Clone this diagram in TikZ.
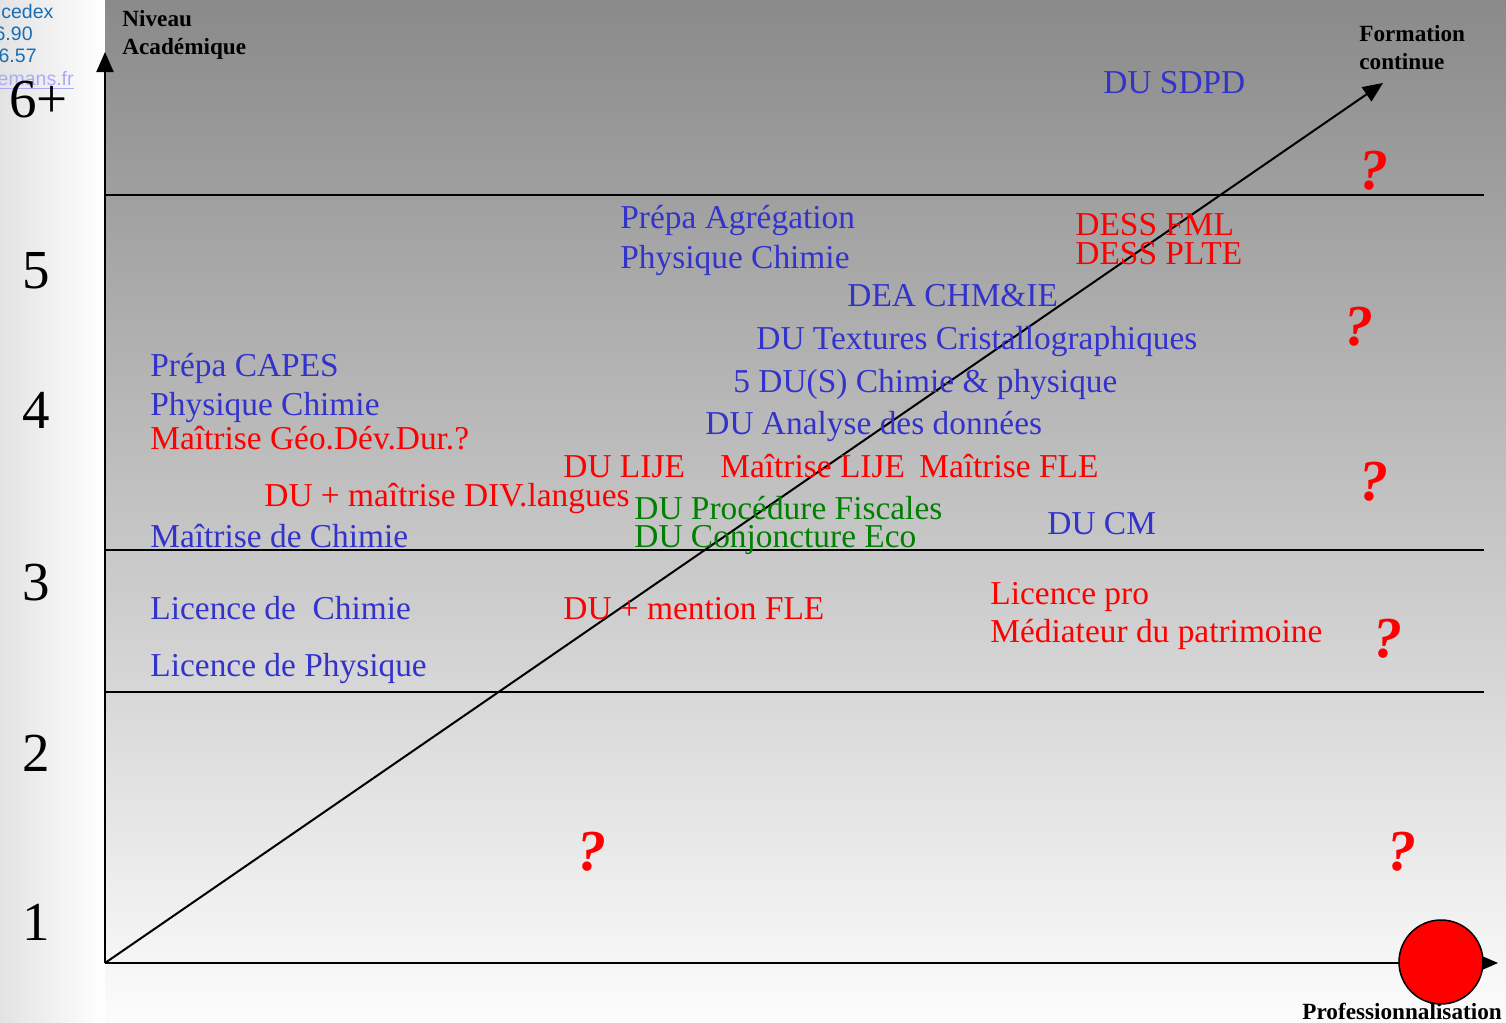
\documentclass[tikz,border=0pt]{standalone}
\usepackage{fontspec}
\setmainfont{Liberation Serif}
\newfontfamily\webfont{Liberation Sans}
\usetikzlibrary{arrows.meta}
\definecolor{dublue}{RGB}{51,51,204}
\definecolor{dured}{RGB}{255,0,0}
\definecolor{dugreen}{RGB}{0,128,0}
\definecolor{weblink}{RGB}{24,110,180}
\definecolor{webvisited}{RGB}{170,170,250}
\tikzset{
	entry/.style={anchor=base west, inner sep=0pt, font=\fontsize{16.7}{18}\selectfont},
	bluetxt/.style={entry, text=dublue},
	redtxt/.style={entry, text=dured},
	greentxt/.style={entry, text=dugreen},
	axislabel/.style={anchor=base west, inner sep=0pt, font=\fontsize{11.6}{13}\selectfont\bfseries},
	levelnum/.style={anchor=base, inner sep=0pt, font=\fontsize{27.5}{30}\selectfont},
	qmark/.style={anchor=base, inner sep=0pt, text=dured, font=\fontsize{29}{32}\selectfont\bfseries\itshape},
	webtxt/.style={inner sep=0pt, text=weblink, font=\fontsize{9.75}{11}\selectfont\webfont},
	axisline/.style={line width=1pt, -{Triangle[length=10pt,width=8.5pt]}},
	levelline/.style={line width=1pt}
}
\begin{document}
\begin{tikzpicture}[x=0.5pt,y=-0.5pt]
		%%%%% START %%%%%
		\useasboundingbox (0,0) rectangle (1506,1023);
		\clip (0,0) rectangle (1506,1023);
		
		% backgrounds
		\shade[left color=black!11, right color=white] (0,0) rectangle (105,1023);
		\shade[top color=black!46, bottom color=black!1] (105,0) rectangle (1506,1023);
		
		% cut-off page text
		\node[webtxt, anchor=base west] (cedex) at (1,18) {cedex};
		\node[webtxt, anchor=base east] (telA) at (33,40) {6.90};
		\node[webtxt, anchor=base east] (telB) at (37,62) {6.57};
		\node[webtxt, anchor=base east, text=webvisited] (site) at (74,85) {\underline{emans.fr}};
		
		% axes
		\coordinate (origin) at (105,963);
		\coordinate (ytop) at (105,52);
		\coordinate (xend) at (1498,963);
		\coordinate (diagend) at (1383,83);
		\coordinate (l6a) at (105,195);  \coordinate (l6b) at (1484,195);
		\coordinate (l3a) at (105,550);  \coordinate (l3b) at (1484,550);
		\coordinate (l2a) at (105,692);  \coordinate (l2b) at (1484,692);
		
		\draw[levelline] (l6a) -- (l6b);
		\draw[levelline] (l3a) -- (l3b);
		\draw[levelline] (l2a) -- (l2b);
		\draw[axisline] (origin) -- (ytop);
		\draw[axisline] (origin) -- (xend);
		\draw[axisline] (origin) -- (diagend);
		
		\node[circle, draw, line width=0.75pt, fill=red, minimum size=42pt, inner sep=0pt] (prodot) at (1441,962) {};
		
		% axis labels
		\node[axislabel] (niv) at (122,26) {Niveau};
		\node[axislabel] (acad) at (122,54) {Académique};
		\node[axislabel] (form) at (1359,41) {Formation};
		\node[axislabel] (cont) at (1359,69) {continue};
		\node[axislabel] (prof) at (1302,1019) {Professionnalisation};
		
		% levels
		\node[levelnum, anchor=base west] (n6) at (9,117) {6+};
		\node[levelnum] (n5) at (36,288) {5};
		\node[levelnum] (n4) at (36,428) {4};
		\node[levelnum] (n3) at (36,600) {3};
		\node[levelnum] (n2) at (36,771) {2};
		\node[levelnum] (n1) at (36,940) {1};
		
		% formations
		\node[bluetxt] (sdpd) at (1103,93) {DU SDPD};
		\node[bluetxt] (agreg) at (620,228) {Prépa Agrégation};
		\node[bluetxt] (agregpc) at (620,268) {Physique Chimie};
		\node[redtxt] (fml) at (1075,235) {DESS FML};
		\node[redtxt] (plte) at (1075,264) {DESS PLTE};
		\node[bluetxt] (dea) at (847,306) {DEA CHM\&IE};
		\node[bluetxt] (textures) at (756,349) {DU Textures Cristallographiques};
		\node[bluetxt] (cinqdu) at (733,392) {5 DU(S) Chimie \& physique};
		\node[bluetxt] (analyse) at (705,434) {DU Analyse des données};
		\node[bluetxt] (capes) at (150,376) {Prépa CAPES};
		\node[bluetxt] (capespc) at (150,415) {Physique Chimie};
		\node[redtxt] (geo) at (150,449) {Maîtrise Géo.Dév.Dur.?};
		\node[redtxt] (dulije) at (563,477) {DU LIJE};
		\node[redtxt] (mlije) at (720,477) {Maîtrise LIJE};
		\node[redtxt] (mfle) at (919,477) {Maîtrise FLE};
		\node[redtxt] (divlang) at (264,506) {DU + maîtrise DIV.langues};
		\node[greentxt] (fisc) at (634,519) {DU Procédure Fiscales};
		\node[greentxt] (conj) at (634,547) {DU Conjoncture Eco};
		\node[bluetxt] (ducm) at (1047,534) {DU CM};
		\node[bluetxt] (mchim) at (150,547) {Maîtrise de Chimie};
		\node[bluetxt] (lchim) at (150,619) {Licence de\ \ Chimie};
		\node[redtxt] (mfledu) at (563,619) {DU + mention FLE};
		\node[redtxt] (lpro) at (990,604) {Licence pro};
		\node[redtxt] (patri) at (990,642) {Médiateur du patrimoine};
		\node[bluetxt] (lphys) at (150,676) {Licence de Physique};
		
		% open questions
		\node[qmark] (q6) at (1374,189) {?};
		\node[qmark] (q5) at (1359,345) {?};
		\node[qmark] (q4) at (1374,500) {?};
		\node[qmark] (q3) at (1388,657) {?};
		\node[qmark] (q1a) at (592,870) {?};
		\node[qmark] (q1b) at (1402,870) {?};
		%%%%% END %%%%%
\end{tikzpicture}
\end{document}
